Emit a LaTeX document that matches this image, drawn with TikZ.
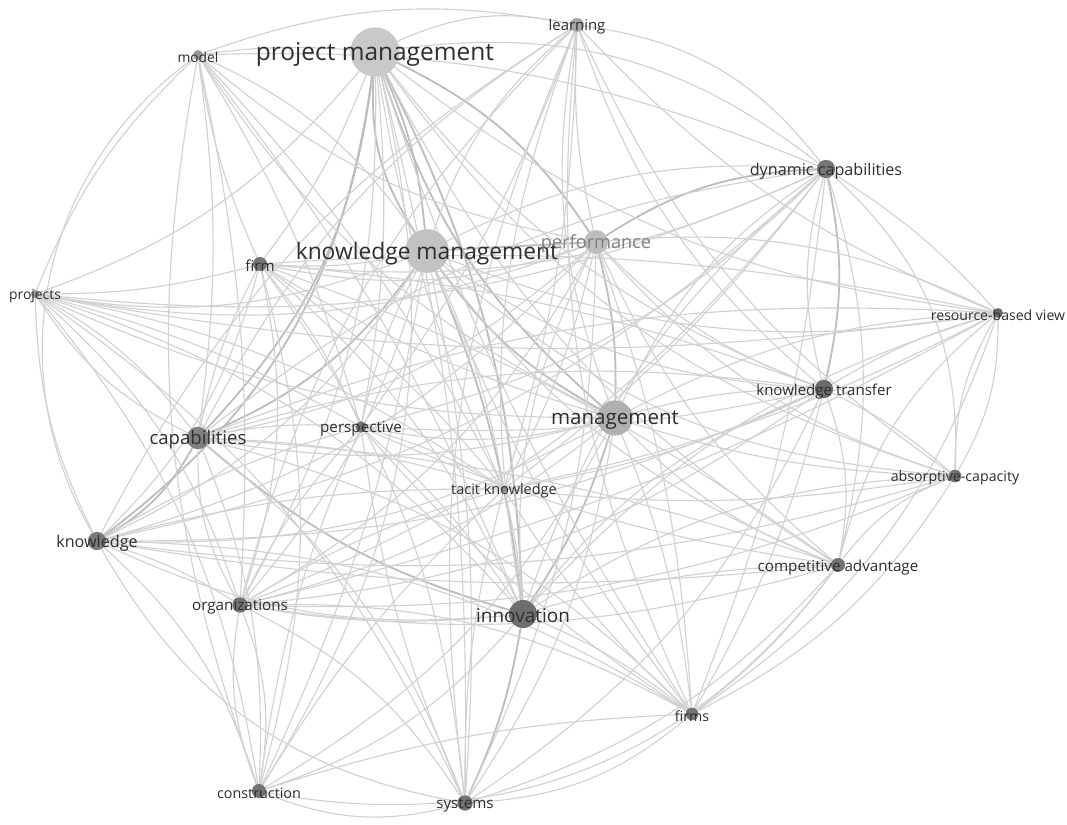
\documentclass[tikz,border=0pt]{standalone}
\usepackage{fontspec}
\setmainfont{Open Sans}
\usepackage{tikz}
\usetikzlibrary{calc}
\pgfdeclarelayer{background}
\pgfsetlayers{background,main}
\newcommand{\fsz}[1]{\fontsize{#1pt}{#1pt}\selectfont}

\begin{document}
\begin{tikzpicture}[x=0.025cm,y=0.025cm]
  % Colors
  \colorlet{linkc}{black!18}
  \colorlet{hubc}{black!26}
  \colorlet{textc}{black!82}
  % Styles
  \tikzstyle{edge}=[draw=linkc,line width=0.8pt,line cap=round]
  \tikzstyle{hub}=[draw=hubc,line width=1.3pt,line cap=round]
  \tikzstyle{dot}=[circle,inner sep=0pt,draw=none]
  \tikzstyle{lab}=[inner sep=0pt,text=textc,font=\fsz{10.3},yshift=-1.5pt]

  \useasboundingbox (0,0) rectangle (1067,-824);

  % The keywords
  \node[dot,minimum size=35pt,fill=black!21,label={[lab,font=\fsz{17.4}]center:project management}] (pm) at (375,-52) {};
  \node[dot,minimum size=31pt,fill=black!24,label={[lab,font=\fsz{16.2}]center:knowledge management}] (km) at (427,-251) {};
  \node[dot,minimum size=17pt,fill=black!26,label={[lab,text=black!50,font=\fsz{12.9}]center:performance}] (perf) at (596,-242) {};
  \node[dot,minimum size=25pt,fill=black!31,label={[lab,font=\fsz{14.6}]center:management}] (mgmt) at (615,-418) {};
  \node[dot,minimum size=20pt,fill=black!57,label={[lab,font=\fsz{13.5}]center:innovation}] (inno) at (523,-614) {};
  \node[dot,minimum size=16pt,fill=black!50,label={[lab,font=\fsz{13.2}]center:capabilities}] (cap) at (198,-438) {};
  \node[dot,minimum size=13pt,fill=black!52,label={[lab,font=\fsz{11.5}]center:knowledge}] (know) at (97,-541) {};
  \node[dot,minimum size=13pt,fill=black!54,label={[lab,font=\fsz{11.5}]center:dynamic capabilities}] (dc) at (826,-169) {};
  \node[dot,minimum size=13pt,fill=black!58,label={[lab,font=\fsz{10.7}]center:knowledge transfer}] (kt) at (824,-389) {};
  \node[dot,minimum size=10pt,fill=black!55,label={[lab,font=\fsz{10.8}]center:competitive advantage}] (ca) at (838,-565) {};
  \node[dot,minimum size=9pt,fill=black!55,label={[lab,font=\fsz{10.1}]center:absorptive-capacity}] (ac) at (955,-476) {};
  \node[dot,minimum size=7pt,fill=black!60,label={[lab,font=\fsz{10}]center:resource-based view}] (rbv) at (998,-313) {};
  \node[dot,minimum size=10pt,fill=black!55,label={[lab,font=\fsz{10.8}]center:firm}] (firm) at (260,-264) {};
  \node[dot,minimum size=8pt,fill=black!55,label={[lab,font=\fsz{10.8}]center:perspective}] (persp) at (361,-427) {};
  \node[dot,minimum size=5pt,fill=black!45,label={[lab,font=\fsz{10.3}]center:tacit knowledge}] (tk) at (504,-489) {};
  \node[dot,minimum size=11pt,fill=black!55,label={[lab,font=\fsz{10.8}]center:organizations}] (org) at (240,-605) {};
  \node[dot,minimum size=10pt,fill=black!55,label={[lab,font=\fsz{10.2}]center:construction}] (cons) at (259,-791) {};
  \node[dot,minimum size=11pt,fill=black!55,label={[lab,font=\fsz{10.8}]center:systems}] (sys) at (465,-803) {};
  \node[dot,minimum size=9pt,fill=black!55,label={[lab,font=\fsz{10.1}]center:firms}] (firms) at (692,-714) {};
  \node[dot,minimum size=10pt,fill=black!35,label={[lab,font=\fsz{10.6}]center:learning}] (lrn) at (577,-25) {};
  \node[dot,minimum size=7pt,fill=black!40,label={[lab,font=\fsz{9.8}]center:model}] (mdl) at (198,-55) {};
  \node[dot,minimum size=6pt,fill=black!40,label={[lab,font=\fsz{9.9}]center:projects}] (prj) at (35,-294) {};

  % The links
  \begin{pgfonlayer}{background}
  \fill[white] (0,0) rectangle (1067,-824);
  \foreach \a/\b/\c in {pm/km/6,pm/km/-12,pm/inno/8,pm/mgmt/-10,pm/perf/10,pm/cap/12,pm/know/15,
      km/inno/5,km/mgmt/-8,km/perf/0,km/cap/10,mgmt/inno/5,perf/mgmt/5,
      perf/dc/10,cap/know/10,inno/cap/8,inno/sys/5,dc/kt/8}{
    \pgfmathsetmacro\bb{1.5*\c}
    \draw[hub] (\a) to[bend left=\bb] (\b);}
  \foreach \a/\b/\c in {
      pm/mdl/-4,pm/lrn/12,pm/dc/15,pm/firm/5,pm/persp/5,pm/tk/-5,pm/org/10,pm/prj/10,
      pm/cons/15,pm/sys/5,pm/kt/-10,pm/ca/-10,pm/firms/-5,pm/rbv/-10,pm/ac/-12,
      km/lrn/10,km/mdl/-10,km/dc/10,km/firm/5,km/prj/10,km/persp/-5,km/tk/5,km/know/10,
      km/org/8,km/kt/-10,km/ca/-10,km/ac/-12,km/rbv/-10,km/sys/5,km/cons/5,km/firms/-5,
      perf/lrn/5,perf/inno/-10,perf/cap/10,perf/firm/10,perf/know/10,perf/org/10,
      perf/ca/-8,perf/kt/-8,perf/rbv/10,perf/ac/-10,perf/firms/5,perf/prj/10,perf/tk/5,
      perf/sys/8,perf/mdl/10,
      mgmt/cap/8,mgmt/dc/10,mgmt/kt/5,mgmt/ca/-8,mgmt/firms/5,mgmt/sys/8,mgmt/cons/10,
      mgmt/persp/8,mgmt/know/10,mgmt/lrn/10,mgmt/mdl/10,mgmt/rbv/8,mgmt/ac/-5,
      mgmt/firm/5,mgmt/org/8,mgmt/prj/8,
      inno/know/10,inno/org/5,inno/cons/10,inno/firms/5,inno/ca/5,inno/kt/10,
      inno/dc/10,inno/ac/10,inno/persp/-5,inno/firm/-8,inno/tk/-3,inno/lrn/10,
      inno/rbv/10,inno/mdl/-5,inno/prj/-10,
      cap/org/-10,cap/firm/5,cap/persp/5,cap/prj/10,cap/mdl/-5,cap/dc/10,cap/ca/5,
      cap/kt/8,cap/firms/10,cap/cons/8,cap/sys/10,cap/tk/5,cap/rbv/8,cap/lrn/10,
      dc/mdl/-8,dc/kt/-10,dc/rbv/5,dc/ca/10,dc/firms/5,dc/org/10,
      dc/know/10,dc/firm/10,dc/persp/10,dc/tk/5,dc/prj/10,
      firm/persp/5,firm/org/10,firm/know/10,firm/prj/5,firm/tk/5,firm/ca/5,firm/kt/5,
      firm/mdl/5,firm/sys/10,firm/cons/10,firm/rbv/5,
      prj/mdl/8,prj/cap/8,prj/know/-8,prj/org/10,prj/persp/5,prj/tk/8,prj/rbv/-6,
      prj/sys/10,prj/cons/10,
      mdl/org/5,mdl/persp/5,mdl/lrn/10,mdl/tk/5,mdl/cons/-10,
      kt/rbv/5,kt/ac/5,kt/ca/10,kt/firms/5,kt/org/10,kt/know/8,kt/persp/5,kt/tk/5,
      kt/sys/10,kt/lrn/10,
      ca/ac/10,ca/rbv/12,ca/firms/5,ca/org/8,ca/sys/10,ca/know/5,ca/persp/5,
      ac/rbv/10,ac/rbv/-10,ac/org/8,ac/know/8,ac/firms/10,ac/lrn/10,ac/tk/5,
      rbv/firms/12,rbv/tk/5,rbv/org/5,rbv/lrn/8,
      know/org/5,know/cons/10,know/tk/5,know/persp/5,know/firms/10,know/lrn/10,
      org/cons/10,org/cons/-10,org/sys/10,org/firms/10,org/persp/5,org/tk/5,org/lrn/10,
      cons/sys/-12,cons/firms/5,cons/persp/5,cons/tk/5,
      sys/firms/-12,sys/persp/5,sys/tk/5,sys/lrn/10,
      firms/lrn/10,firms/tk/5,firms/persp/5,lrn/persp/5,lrn/tk/5,persp/tk/5}{
    \pgfmathsetmacro\bb{1.5*\c}
    \draw[edge] (\a) to[bend left=\bb] (\b);}
  % outer arcs
  \foreach \a/\b/\c in {mdl/know/-42,ca/cons/32,dc/ac/25,know/sys/-25,dc/lrn/-22}
    \draw[edge] (\a) to[bend left=\c] (\b);
  \end{pgfonlayer}
\end{tikzpicture}
\end{document}
